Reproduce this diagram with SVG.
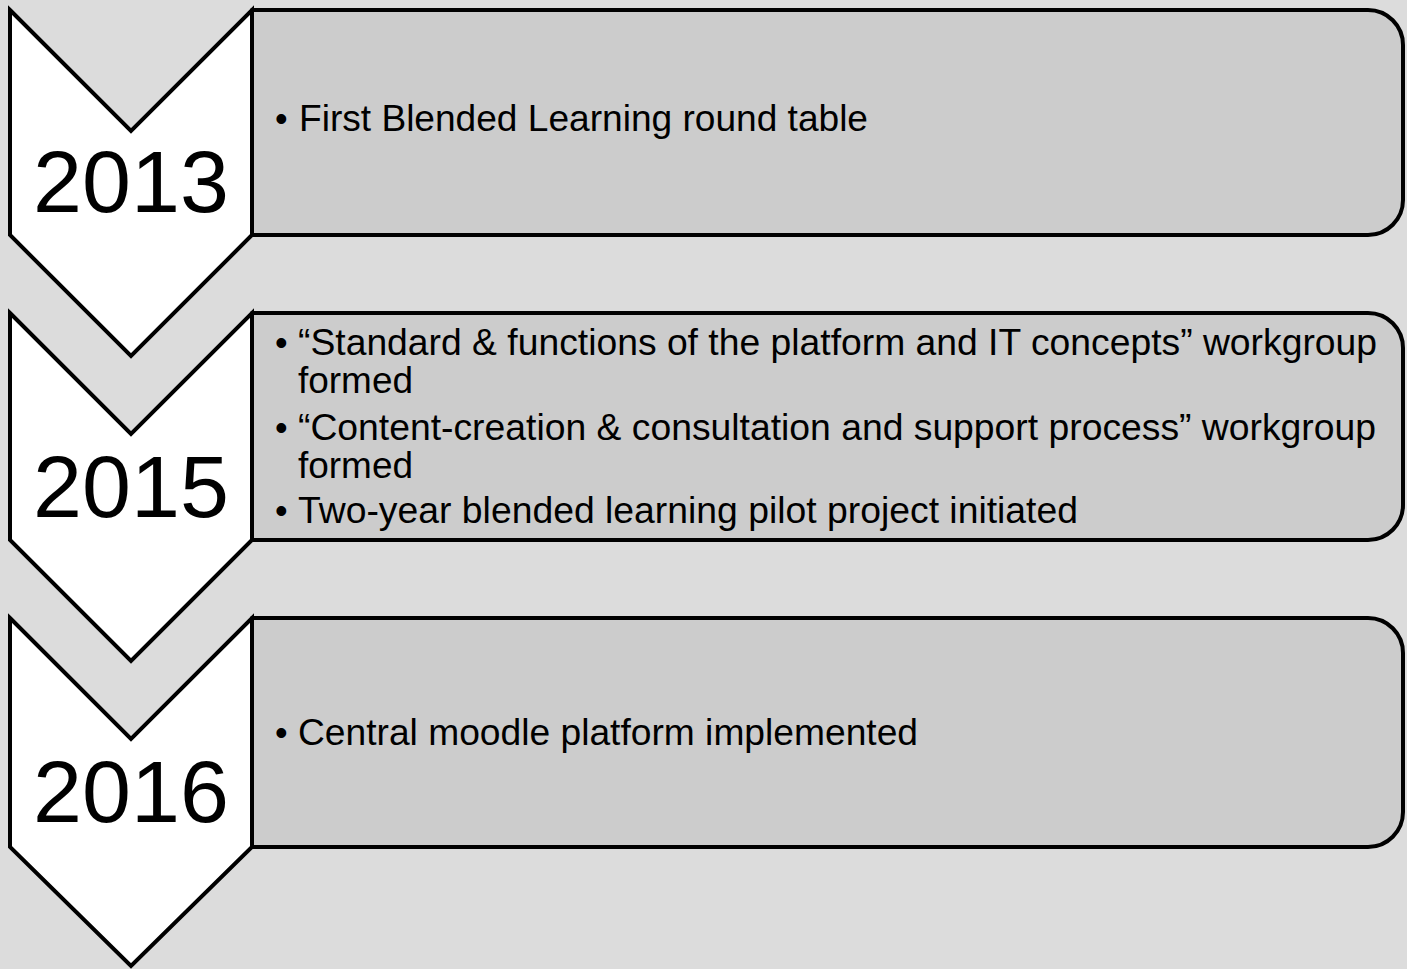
<svg xmlns="http://www.w3.org/2000/svg" width="1407" height="969" viewBox="0 0 1407 969">
<style>
.bg{fill:#dcdcdc}
.box{fill:#cccccc;stroke:#000;stroke-width:4;stroke-linejoin:round}
.chev{fill:#ffffff;stroke:#000;stroke-width:4;stroke-linejoin:miter}
.year{font-family:"Liberation Sans",Arial,sans-serif;font-size:88px;fill:#000;text-anchor:middle}
.txt{font-family:"Liberation Sans",Arial,sans-serif;font-size:36px;fill:#000}
</style>
<rect class="bg" x="0" y="0" width="1407" height="969"/>
<g id="connectors"></g>
<g id="node-2013">
<path class="box" d="M252,10 H1368 A35,35 0 0 1 1403,45 V200 A35,35 0 0 1 1368,235 H252 Z"/>
<path class="chev" d="M10,10 L131,131 L252,10 L252,235 L131,356 L10,235 Z"/>
<text class="year" x="131" y="212">2013</text>
<text class="txt" x="275" y="131">•</text>
<text class="txt" x="299" y="131" textLength="569" lengthAdjust="spacingAndGlyphs">First Blended Learning round table</text>
</g>
<g id="node-2015">
<path class="box" d="M252,313 H1368 A35,35 0 0 1 1403,348 V505 A35,35 0 0 1 1368,540 H252 Z"/>
<path class="chev" d="M10,313 L131,434 L252,313 L252,540 L131,661 L10,540 Z"/>
<text class="year" x="131" y="517">2015</text>
<text class="txt" x="275" y="355">•</text>
<text class="txt" x="298" y="355" textLength="1079" lengthAdjust="spacingAndGlyphs">“Standard &amp; functions of the platform and IT concepts” workgroup</text>
<text class="txt" x="298" y="393" textLength="115" lengthAdjust="spacingAndGlyphs">formed</text>
<text class="txt" x="275" y="440">•</text>
<text class="txt" x="298" y="440" textLength="1078" lengthAdjust="spacingAndGlyphs">“Content-creation &amp; consultation and support process” workgroup</text>
<text class="txt" x="298" y="478" textLength="115" lengthAdjust="spacingAndGlyphs">formed</text>
<text class="txt" x="275" y="523">•</text>
<text class="txt" x="298" y="523" textLength="780" lengthAdjust="spacingAndGlyphs">Two-year blended learning pilot project initiated</text>
</g>
<g id="node-2016">
<path class="box" d="M252,618 H1368 A35,35 0 0 1 1403,653 V812 A35,35 0 0 1 1368,847 H252 Z"/>
<path class="chev" d="M10,618 L131,739 L252,618 L252,847 L131,966 L10,847 Z"/>
<text class="year" x="131" y="822">2016</text>
<text class="txt" x="275" y="745">•</text>
<text class="txt" x="298" y="745" textLength="620" lengthAdjust="spacingAndGlyphs">Central moodle platform implemented</text>
</g>
</svg>
